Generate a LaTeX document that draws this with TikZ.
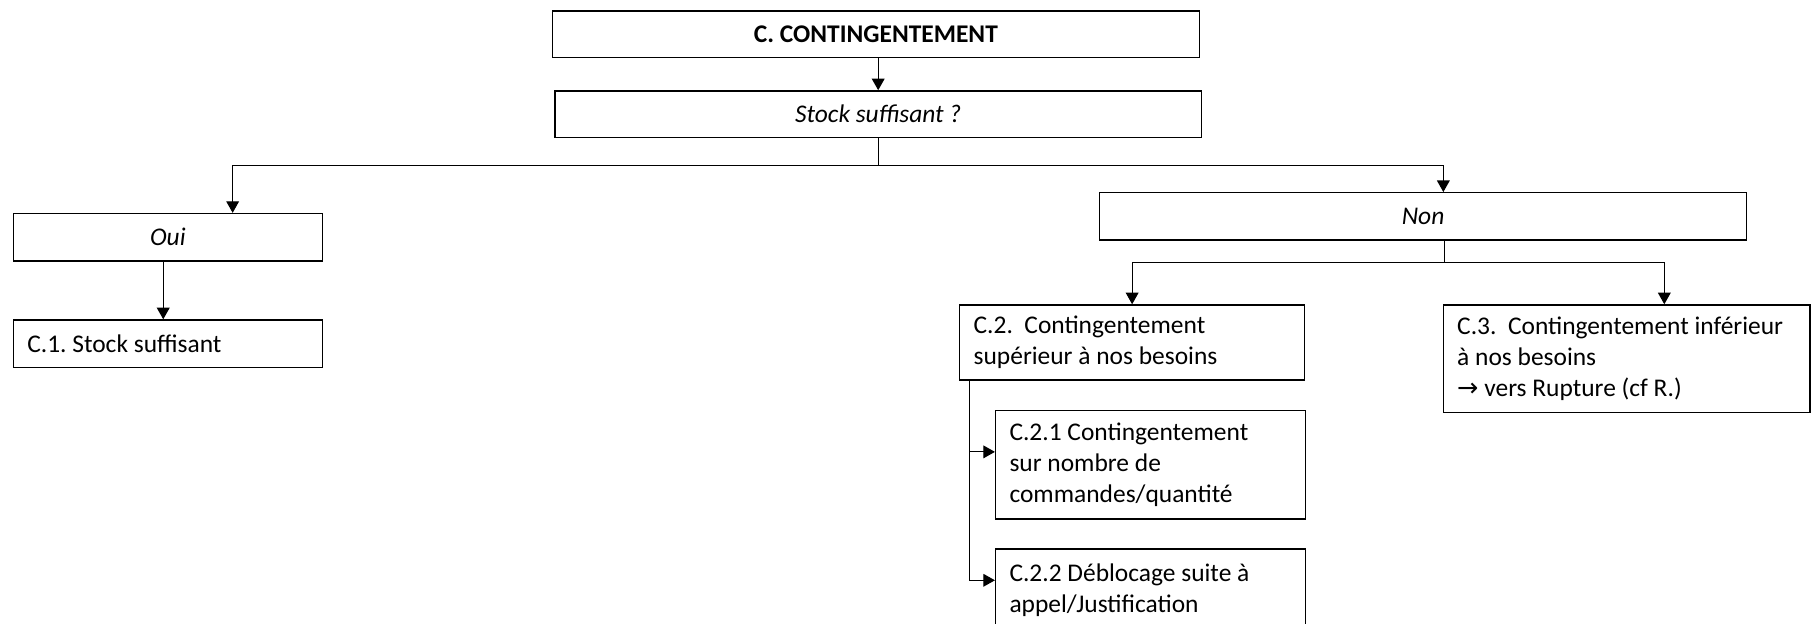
\documentclass[tikz,border=0pt]{standalone}
\usepackage{fontspec}
\setmainfont{Carlito}
\newfontfamily\arrowfont{DejaVu Sans}
\usetikzlibrary{arrows.meta}

\tikzset{
    box/.style={draw, line width=0.6pt, anchor=north west, inner xsep=6pt, inner ysep=0pt,
        font=\fontsize{11}{13.4}\selectfont\frenchspacing},
    textbox/.style={box, align=flush left},
    link/.style={line width=0.5pt},
    arr/.style={link, -{Triangle[length=5pt,width=5.5pt]}}
}

\begin{document}
\begin{tikzpicture}[x=0.5pt,y=-0.5pt]
    \clip (0,0) rectangle (1568,539);

    % header and question
    \node[box, minimum width=279.5pt, minimum height=20pt] (top) at (477,9) {\textbf{C. CONTINGENTEMENT}};
    \node[box, minimum width=279.5pt, minimum height=20pt] (quest) at (479,78) {\textit{Stock suffisant ?}};
    \draw[arr] (top.south -| quest.north) -- (quest.north);

    % answers
    \node[box, minimum width=133.5pt, minimum height=20.5pt] (oui) at (11,184) {\textit{Oui}};
    \node[box, minimum width=279.5pt, minimum height=20.5pt] (non) at (950,166) {\textit{Non}};
    \draw[link] (quest.south) -- ++(0,24) coordinate (split);
    \draw[arr] (split) -| ([xshift=28pt]oui.north);
    \draw[arr] (split) -| ([xshift=8.75pt]non.north);

    % Oui branch
    \node[textbox, text width=121.5pt, minimum height=20.5pt] (stock) at (11,276) {C.1. Stock suffisant};
    \draw[arr] ([xshift=-2pt]oui.south) -- ([xshift=-2pt]stock.north);

    % Non branch
    \node[textbox, text width=137pt, minimum height=32.5pt] (sup) at (829,263)
        {C.2.~~Contingentement\\supérieur à nos besoins};
    \node[textbox, text width=146.5pt, minimum height=46.5pt] (inf) at (1247,263)
        {C.3.~~Contingentement inférieur\\à nos besoins\\{\arrowfont →} vers Rupture (cf R.)};
    \draw[link] ([xshift=9.25pt]non.south) -- ++(0,19) coordinate (nsplit);
    \draw[arr] (nsplit) -| (sup.north);
    \draw[arr] (nsplit) -| ([xshift=16.25pt]inf.north);

    % C.2 sub cases
    \node[textbox, text width=122pt, minimum height=47pt] (quota) at (860,354)
        {C.2.1 Contingentement\\sur nombre de\\commandes/quantité};
    \node[textbox, text width=122pt, minimum height=36pt] (deblo) at (860,474)
        {C.2.2 Déblocage suite à\\appel/Justification};
    \draw[arr] ([xshift=4.5pt]sup.south west) |- ([yshift=5.5pt]quota.west);
    \draw[arr] ([xshift=4.5pt]sup.south west) |- ([yshift=4.5pt]deblo.west);
\end{tikzpicture}
\end{document}
